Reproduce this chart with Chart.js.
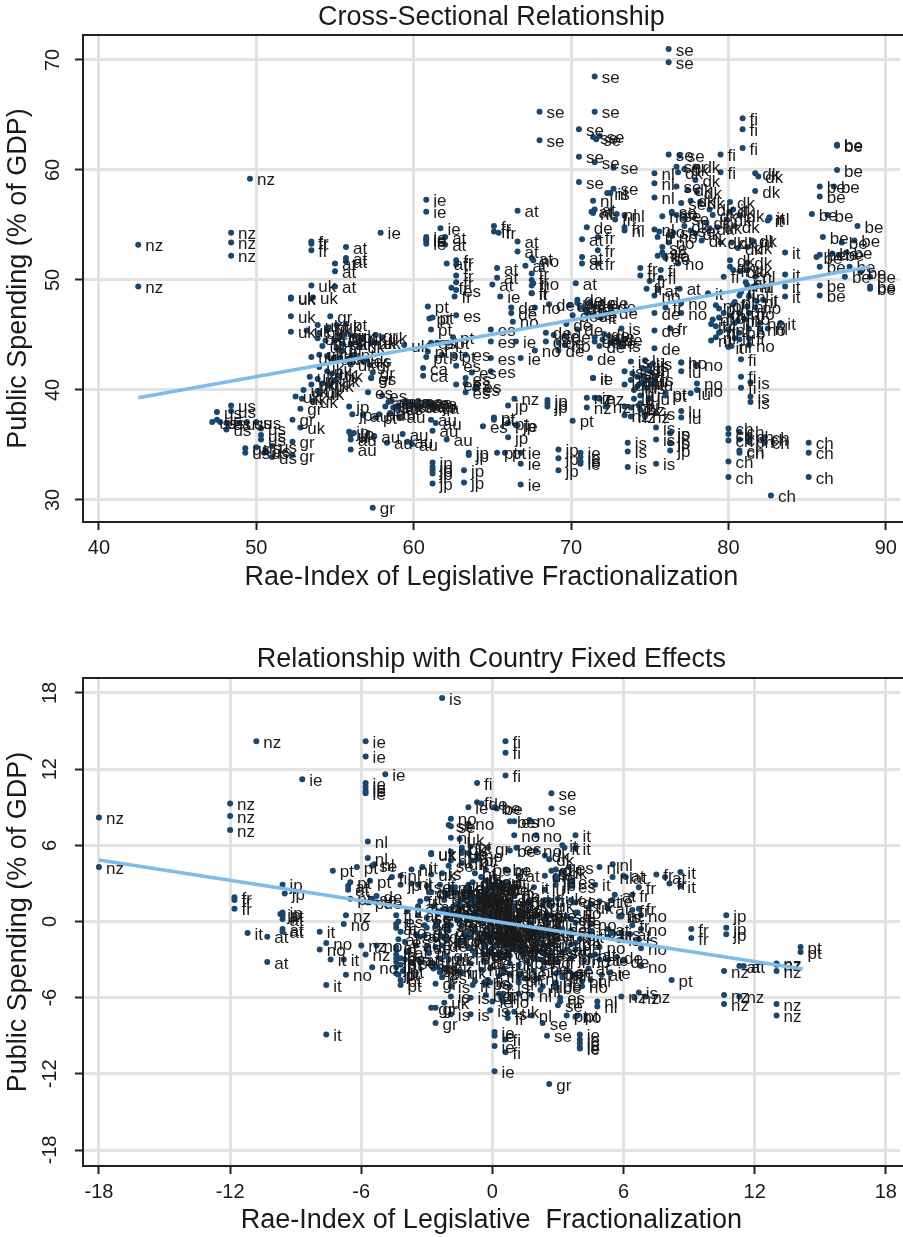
<!DOCTYPE html>
<html>
<head>
<meta charset="utf-8">
<title>Rae-Index and Public Spending</title>
<script src="https://cdn.jsdelivr.net/npm/chart.js@4/dist/chart.umd.min.js"></script>
<style>
  html, body { margin: 0; padding: 0; background: #fff; overflow: hidden; }
  canvas { position: absolute; left: 0; }
  #crossChart { top: 0; }
  #fixedChart { top: 640px; }
</style>
</head>
<body>
<canvas id="crossChart" width="903" height="600"></canvas>
<canvas id="fixedChart" width="903" height="597"></canvas>
<script>
// Cross-sectional panel, [rae index, public spending]
const crossNz = [[42.5,53.2],[42.5,49.4],[48.4,54.3],[48.4,53.4],[48.4,52.2],[49.6,59.2],[66.4,39.2],[71,39.3],[71,38.4],[71.8,39.2],[72.2,38.5],[73.4,38.5],[73.4,37.7],[73.8,38.4],[73.8,37.6],[74.4,38.2],[74.7,37.6]];
const crossIe = [[60.8,57.3],[60.8,56.2],[61.7,54.7],[60.8,53.9],[60.8,53.6],[60.8,53.3],[57.9,54.3],[65.5,48.5],[66.5,44.4],[66.8,42.9],[66.8,34.3],[66.8,33.3],[66.8,31.4],[70.6,34.3],[70.6,33.9],[70.6,33.5],[70.6,33.3],[71.4,41.1],[71.5,39.3],[66.6,36.8],[60.8,53.7]];
const crossAt = [[55.7,53],[55.7,52],[55.7,51.7],[55,51.5],[55,50.8],[55,49.4],[62,53.9],[62,53.2],[62.1,51.5],[66.6,56.3],[66.6,53.5],[66.6,52.6],[65.3,51.1],[65.3,50.2],[67.5,52],[67.1,51.3],[70.7,53.7],[70.7,52.1],[70.7,51.5],[70.3,49.7],[71.3,56.2],[71.5,56.4],[75.5,49.1],[65,49.6],[76.9,49.2]];
const crossFr = [[53.5,53.5],[53.5,53.3],[53.5,52.7],[62.7,51.8],[62.7,51.4],[62.7,50.4],[62.7,49.8],[62.4,49.3],[62.6,48.5],[65.1,54.9],[65.1,54.4],[65.4,54.3],[67.5,50.6],[67.5,50],[67.5,49.5],[67.5,48.8],[71.7,53.9],[71.7,52.7],[71.7,51.5],[74.4,51.1],[74.4,50.4],[76.3,45.6],[72.8,55.5],[73.4,54.8],[75,49.9],[74.8,49.2],[76,47.5]];
const crossDe = [[66.2,47.5],[66.2,47],[68.4,45.2],[68.4,44.4],[69.2,44.3],[69.2,43.6],[70.4,48.2],[70.4,47.9],[70.6,47.5],[71.2,48],[71.5,47.6],[72,48],[72.5,47.6],[70.9,47.3],[75.3,47],[75.3,45.4],[75.3,43.8],[71.5,44.8],[71.5,44.4],[71.8,44],[72,44.6],[72.4,44.9],[72.5,44.3],[71.2,42.9],[71,54.8],[68.6,47.8],[69.7,46],[71,47],[71.3,46.8],[72.6,47.1],[69.9,47.7],[70.1,46.8],[72.1,45.1],[72.9,44.6],[68.9,45],[69.6,44.9],[70.4,45.5]];
const crossNo = [[66.3,46.2],[67.7,47.5],[67.7,43.6],[77,47.9],[77,47],[77,42.5],[78,42.3],[78,40.6],[78,40],[75.3,48.6],[81.3,44.1],[81.3,47],[82,46.1],[82,45.5],[69.6,44.1],[76.8,51.5],[67.6,51.8],[67.6,49.7],[75.6,54.4],[76.4,54],[79.2,47.7],[76.4,56.1],[75.8,55.8],[75.9,52.2],[76.2,53.4],[79.4,46.6],[80.7,45.2],[81,46.5],[81.7,47.5]];
const crossFi = [[80.9,64.7],[80.9,63.7],[80.9,62],[79.5,61.4],[79.5,59.8],[79.7,50.3],[80.8,42.8],[80.8,41.2],[80.8,40.2],[81.3,44.7],[81.3,45.6],[81.3,47],[75.5,53.9],[75.7,50.9],[75.7,50.2],[80.4,44.7],[80.4,46.1],[80.3,47.8],[80.7,48.6],[80.3,50.9],[81.2,49.5]];
const crossSe = [[68,65.3],[68,62.7],[71.5,68.5],[71.5,65.3],[70.5,63.7],[71.4,63],[71.6,62.8],[71.8,63.1],[70.5,61.2],[71.5,60.7],[72.7,60.2],[70.5,58.9],[72.7,58.3],[76.2,71],[76.2,69.8],[76.2,61.4],[76.9,61.3],[76.7,60.3],[76.7,58.5],[77,57],[76,52],[75.8,53],[76.5,54.3],[77.6,54.5],[77.2,55.6],[76.7,55.9],[76.4,56.2],[75.8,52.5]];
const crossDk = [[81.7,59.7],[81.9,59.4],[81.7,58.1],[77.9,60.3],[77.9,59.1],[78.2,57.1],[78.8,56.4],[78.8,54.7],[79.3,54.8],[79.5,53.4],[80.1,57.1],[80.1,56.2],[80.7,55.9],[81.2,53],[81.5,53.6],[80.1,51.8],[81.2,51.6],[80.1,51.2],[77.2,54.9],[77.9,54.2],[77.6,57.2],[78.3,53.6],[76.8,59.8],[77.2,60.1],[77.4,58.2],[78,58],[78.6,55.2],[79,55.9],[79.9,55.5],[80.4,54.9],[80.6,52.9],[80.2,53.4],[80.7,50.8],[81.2,50.9]];
const crossNl = [[75.3,59.7],[75.3,58.8],[75.3,57.5],[71.4,57.2],[72.3,57.9],[71.4,56.1],[73.4,55.9],[73.4,54.5],[72.9,56],[75.3,54.6],[82.6,55.6],[81.6,53.5],[81.6,49.4],[79,46.4],[79.2,45.8],[79.4,45.2],[80,45.5],[78.9,44.5],[80.2,44],[82.5,45.6],[80.4,48],[81.3,48.5],[75.5,52.2],[79.4,47.4],[79.7,47],[80.1,46.8],[80.6,46.3],[81.2,47.6],[81.7,50.3],[81.1,49.8],[81.8,48.1],[79.2,44.8]];
const crossIt = [[83.6,52.5],[83.6,50.5],[83.6,49.4],[83.6,48.5],[82.6,55.7],[80.3,56.4],[83.3,46.1],[78.7,48.8],[71.9,46.6],[71.4,41.1],[67.5,48.8],[80.7,47],[81.8,49.4],[82.2,48.2],[82.5,55.4],[80.8,48.9],[78.9,46],[79.5,45.3],[80,43.9],[80.7,44.6]];
const crossBe = [[86.9,62.3],[86.9,62.2],[86.9,60],[85.8,58.5],[85.8,57.6],[86.7,58.5],[85.3,56],[86.3,55.9],[88.2,54.9],[86,53.9],[88,53.6],[87.2,53.4],[85.8,52.3],[85.6,52.1],[87.5,52.5],[87,52.3],[86.6,52.4],[85.8,51.2],[87.7,51.2],[85.8,49.5],[85.8,48.6],[87.4,50.3],[89,50.3],[89,49.4],[89,49.2],[88.4,50.7]];
const crossIs = [[73.2,45.6],[73.2,44.1],[73.6,35.2],[73.6,34.4],[73.6,33],[75.4,37.9],[75.4,36.6],[75.4,35.5],[75.4,33.3],[73.8,42.6],[75.2,42.4],[75.3,41],[76.3,36.1],[76.3,35.2],[81.4,39.4],[81.4,38.9],[81.4,40.7],[72.5,57.9],[73.4,41.7],[74.2,41.2],[73.9,41.5],[74.5,42],[75,42.2],[74.8,40.2]];
const crossEs = [[62.7,49.1],[62.7,46.8],[57,42.7],[61.1,44.3],[63.3,43.2],[62.7,42.2],[63.3,41.1],[63.3,40.6],[63.3,39.8],[62.7,40.5],[57.3,41.1],[57.1,39.8],[58,39.5],[58.6,39],[59,38.3],[64.9,45.5],[64.9,44.4],[64.9,42.9],[64.9,41.7],[64.4,36.7],[63.7,41.6],[64,40.3],[63.9,40.1]];
const crossPt = [[60.9,47.6],[61,46.5],[61.2,46.6],[61.1,45.5],[60.8,43],[60.9,43.5],[61.5,44.3],[62.2,44.3],[62.5,44.8],[61.8,43.2],[62.6,43.1],[55.4,44.8],[55.4,43.5],[54.6,45.7],[55.7,46],[56.3,44.9],[57.6,37.5],[58.2,38.5],[65.1,37.5],[65.1,37.3],[66,37],[70.1,37.2],[76,39.7],[76,39.5],[65.8,34.3],[65.3,34.3],[56.2,43.2]];
const crossGr = [[52.3,37.3],[52.3,35.3],[52.3,34.1],[57.4,29.3],[54.7,46.7],[55.6,45],[57.6,45],[54.4,44.5],[55.1,43.8],[57.2,42.3],[57.4,41.6],[57.3,41.1],[52.8,38.3]];
const crossUk = [[53.5,49.5],[52.2,48.4],[52.2,48.3],[53.6,48.4],[52.2,46.7],[52.2,45.3],[53.9,45.9],[53.2,45.4],[54,45.2],[55.1,45.9],[56,45],[56.7,44.7],[57.6,44.3],[58,44.8],[54,43.2],[54.5,43.1],[54.9,42.9],[55.3,42.9],[54,42.1],[54.5,41.7],[53.4,41.2],[53.9,41],[54.2,40.6],[54.6,40.4],[55,40.9],[53,40],[52.9,39.2],[52.5,39.4],[53.6,39],[54,39.7],[56,42.3],[56.8,42.6],[59.4,44.1],[52.8,36.6],[56,35.9],[54.5,45.5],[55,44.5],[55.5,44.2],[56,44.2],[56.6,44],[57.3,44.3],[54.2,44],[53.9,44.7],[53.5,43],[54.8,41.5],[55.2,41.3],[53.5,40.5],[53.9,39.9]];
const crossUs = [[48.4,38.6],[48.4,38.1],[47.5,38],[47.5,37.3],[47.2,37.1],[47.7,37.1],[48.1,37],[48.1,36.4],[48.9,37],[49.4,37.1],[50,37.1],[50.3,36.5],[50.3,35.9],[50.3,35.5],[49.3,34.7],[49.3,34.3],[50,34.8],[50.5,34.3],[51,34.9],[51,33.9],[50.6,34.5]];
const crossAu = [[56.8,37.7],[56,35.5],[56,34.6],[57.5,35.8],[58.3,35.2],[59.3,36],[59.6,35.3],[59.9,35.1],[61.2,36.3],[62.1,35.5],[61.1,37.3],[61.4,37],[58.5,37.9],[58.7,38.4],[58.4,38.9],[59.1,37.6],[57.8,37.8]];
const crossJp = [[55.9,38.5],[56.1,37.8],[55.9,36.2],[56.2,36.1],[61.2,33.4],[61.2,33],[61.2,32.7],[61.2,32.4],[61.2,31.5],[63.2,32.7],[63.2,31.6],[63.5,34.3],[63.5,34.1],[61.4,38.5],[66,38.6],[68.5,39.1],[68.5,38.8],[68.5,38.5],[66,35.7],[69.2,34.6],[69.2,33.8],[69.2,32.7],[76.3,36.1],[76.3,35.2],[76.3,34.5],[66.5,36.8]];
const crossCa = [[60.6,42],[60.6,41.3],[59.7,38.9],[60,38.7],[60.3,39],[60.7,38.9],[61,38.6],[61.2,38.8],[60.5,38.6],[59,38.6],[59.5,39],[59.8,38.5],[60.2,38.5],[60.9,38.9],[61.3,38.4]];
const crossCh = [[80,36.5],[80,36],[80,35.4],[80,33.5],[80,32.1],[80.7,36.2],[80.7,35.5],[80.7,34.5],[80.7,34.3],[81.3,35.8],[81.3,35.3],[82.3,35.7],[82.3,35.2],[82.2,35.5],[85.1,35.2],[85.1,34.3],[85.1,32.1],[82.7,30.4]];
const crossLu = [[77,42.5],[77,41.7],[77,38.1],[77,37.5],[74.7,42.7],[74.7,41.9],[74.4,40.6],[74.4,39.5],[74.4,38.8],[73.4,40.5],[74,40],[77.6,39.7],[74.6,41.3],[74.9,40.9],[75,39.2],[73.8,40.9],[74.2,40.3],[74.6,40.7],[75,41.7],[75.2,40.5],[74,39.2],[74.3,38.6]];
const crossCodes = ["nz","ie","at","fr","de","no","fi","se","dk","nl","it","be","is","es","pt","gr","uk","us","au","jp","ca","ch","lu"];
const crossValues = [crossNz,crossIe,crossAt,crossFr,crossDe,crossNo,crossFi,crossSe,crossDk,crossNl,crossIt,crossBe,crossIs,crossEs,crossPt,crossGr,crossUk,crossUs,crossAu,crossJp,crossCa,crossCh,crossLu];
const crossFitX = [42.5, 89];
const crossFitY = [39.3, 51.2];

// Country fixed effects panel, [rae index, public spending]
const fixedNz = [[-18,8.2],[-18,4.3],[-12,9.3],[-12,8.3],[-12,7.2],[-10.8,14.2],[-6.7,0.5],[-6,-1.9],[-5.8,-2.6],[5.9,-5.9],[6.5,-6],[7,-5.9],[10.6,-3.9],[10.6,-5.8],[10.6,-6.5],[13,-3.3],[13,-3.4],[13,-3.9],[13,-6.5],[13,-7.4],[11.3,-5.9]];
const fixedIe = [[-5.8,14.2],[-5.8,13],[-5.8,10.9],[-5.8,10.6],[-5.8,10.3],[-5.8,10.1],[-4.9,11.6],[-8.7,11.2],[-1.1,9],[0.1,-8.7],[0.1,-9],[0.1,-9.8],[0.1,-11.8],[4,-8.9],[4,-9.3],[4,-9.6],[4,-9.9],[4,-10],[-0.1,1.3],[5.5,1.7],[5.4,-4],[5.3,-3],[0,-6.3],[-1.1,5.4]];
const fixedAt = [[7.9,3.5],[6,3.6],[6.1,3.5],[-10.3,-1.2],[-9.6,0.5],[-9.6,0.2],[-9.6,-0.6],[-9.6,-0.8],[-10.3,-3.2],[11.3,-3.5],[-6.6,2.8],[-6.6,2.5],[-3.4,1.2],[-3.4,0.5],[-3.3,-1.2],[1.2,3.6],[1.2,0.8],[-0.1,-1.6],[-0.1,-2.5],[2.1,-0.7],[1.7,-1.4],[5.3,1],[5.3,-0.6],[5.3,-1.2],[4.9,-3],[5.9,0.5],[6.3,-1],[-0.4,-3.1],[11.5,-3.5],[-4.4,-0.5],[-4.3,-1.4],[-3.9,-2.4],[-4.4,-2],[-3.4,-3],[-3,-0.5],[-2.3,0.9],[3.4,-2.2],[4,-1.4],[4.7,-2.6],[5,-4.2],[5.6,2.1],[4.4,-3.7],[4.9,1.6]];
const fixedFr = [[-11.8,1.9],[-11.8,1.7],[-11.8,1],[9.1,-0.6],[9.1,-1.3],[6.7,2.7],[6.7,1],[-2.6,0],[-2.6,-0.4],[-2.6,-1.4],[-2.6,-2],[-2.9,-2.5],[-2.7,-3.3],[-0.2,3.1],[-0.2,2.6],[0.1,2.5],[2.2,-1.2],[2.2,-1.8],[2.2,-2.3],[2.2,-3],[6.4,2.1],[6.4,0.9],[6.4,-0.3],[7.5,3.7],[8.1,3],[-3.3,1.6],[-1.5,-4],[-0.9,-5],[0.5,-3.8],[1.5,-4.5],[3,-3.2],[3.8,-4.2],[5.8,0.4],[5.5,-0.9]];
const fixedDe = [[-5.3,2],[-5.3,1.5],[-3.1,-0.3],[-3.1,-1.1],[-2.3,-1.2],[-2.3,-1.9],[-1.1,2.7],[-1.1,2.4],[-0.9,2],[-0.3,2.5],[0,2.1],[0.5,2.5],[1,2.1],[-0.6,1.8],[3.8,1.5],[3.8,-0.1],[3.8,-1.7],[0,-0.7],[0,-1.1],[0.3,-1.5],[0.5,-0.9],[0.9,-0.6],[1,-1.2],[-0.3,-2.6],[-0.5,9.3],[-2.9,2.3],[-1.8,0.5],[5.7,-2.8],[6,-3.1],[-1.4,1.2],[-0.7,0.9],[0.3,0.6],[1.3,0.7],[-1.9,-0.3],[-1.3,-1.5],[-0.9,-2.3],[0.7,-2.5],[1.4,-1.9],[-2.5,0.6]];
const fixedNo = [[-0.5,1.6],[-0.5,0.7],[-0.5,-3.8],[0.5,-4],[0.5,-5.7],[0.5,-6.3],[-2.2,2.3],[3.8,-2.2],[3.8,0.7],[4.5,-0.2],[4.5,-0.8],[-7.9,-2.2],[-0.7,5.2],[-1.9,8.1],[-1.1,7.7],[1.7,8],[2,6.8],[2,5.6],[1,6.8],[6.8,-2.1],[6.8,-3.5],[6.8,0.5],[6.8,-0.6],[4.1,-5.1],[3.8,-7.5],[-6.8,-0.2],[-6.7,-4.2],[-5.5,-3.6],[-7.6,-1.7],[-5.3,-1.9],[-4.2,-0.8],[-4,-3],[1,0.1],[1.7,1.5],[2.7,-1.8],[2.4,-3.2],[3,-4],[4.2,-3.1],[4.9,-2]];
const fixedFi = [[0.6,14.2],[0.6,13.3],[0.6,11.5],[-0.7,10.9],[-0.7,9.4],[-0.4,-0.1],[0.7,-7.6],[0.6,-9.3],[0.6,-10.3],[1.2,-5.7],[1.2,-4.8],[1.2,-3.4],[-4.6,3.5],[-4.4,0.5],[-4.4,-0.2],[0.3,-5.7],[0.3,-4.3],[0.2,-2.6],[0.6,-1.8],[0.2,0.5],[1.1,-0.9],[0.4,-6],[-0.2,-4.6]];
const fixedSe = [[-5.5,4.4],[-5.5,1.8],[-2,7.6],[-2,4.4],[-3,2.8],[-2.1,2.1],[-2.1,2.2],[-3,0.3],[-2,-0.2],[-0.8,-0.7],[-3,-2],[-0.8,-2.6],[2.7,10.1],[2.7,8.9],[2.7,0.5],[3.4,0.4],[3.2,-0.6],[3.2,-2.4],[3.5,-3.9],[2.5,-9],[2.3,-8],[3,-6.6],[-1.9,7.5]];
const fixedDk = [[2.4,5.2],[2.6,4.9],[2.4,3.6],[-1.4,5.8],[-1.4,4.6],[-1.1,2.6],[-0.5,1.9],[-0.5,0.2],[0,0.3],[0.2,-1.1],[0.8,2.6],[0.8,1.7],[1.4,1.4],[1.9,-1.5],[2.2,-0.9],[0.8,-2.7],[1.9,-2.9],[0.8,-3.3],[-2.1,0.4],[-1.4,-0.3],[-1.7,2.7],[-1,-0.9],[2.9,4.1],[3.2,3.9],[-0.9,3.1],[1,1.1],[0.6,0.7],[-0.2,1.2],[-0.8,1.5],[0.4,-0.4],[1.3,0.3],[1.7,-0.5],[0.2,-1.9],[1.2,-2.2],[-0.4,-0.9]];
const fixedNl = [[-5.7,6.3],[-5.7,5],[-5.4,4.5],[-1.9,6.6],[-1.9,5.5],[-1.9,4.8],[-3.7,4.1],[-3.7,3],[-4.2,3.6],[-1.9,2.7],[5.5,3.5],[4.5,1.4],[4.5,-2.7],[1.9,-3.9],[2.1,-4.5],[2.3,-5.1],[2.9,-4.8],[1.8,-5.8],[3.1,-6.3],[4.8,-6.3],[4.8,-6.7],[4.5,-4.6],[2.2,-5.4],[1.8,-7.4],[5.5,4.5],[4.9,4.3]];
const fixedIt = [[3.8,6.8],[3.8,5.8],[4.7,2.9],[-3.2,4.3],[-11.2,-0.9],[-7.6,-8.9],[-7.6,-5],[-6.8,-3],[8.6,3.9],[8.6,2.8],[3.9,0.7],[3.2,6],[4.4,-1.2],[1.4,-2.7],[-7.4,-3],[-7.9,-0.8],[2.5,-0.2],[3,-1.4],[3.3,5.8],[1.5,-0.7],[-0.8,-4.7],[-3,1.8],[-3.9,0.8],[-3.4,2.9],[-2.4,2.9],[-1.9,1],[-0.5,3.5],[0.7,3.1],[1.9,2.7],[2.6,1.7]];
const fixedBe = [[0.1,9],[0.2,8.9],[0.8,7.9],[0.8,5.6],[-0.3,4.1],[-0.3,3.2],[0.6,4.1],[-0.8,1.6],[0.2,1.5],[2.1,0.5],[-0.1,-0.5],[1.9,-0.8],[1.1,-1],[0.9,-1.2],[1.4,-2],[0.9,-2],[0.5,-1.9],[-0.3,-3.2],[1.6,-3.2],[-0.3,-4.9],[-0.3,-5.8],[1.3,-4.1],[2.9,-4.1],[2.9,-5],[2.9,-5.2],[2.3,-3.7]];
const fixedIs = [[-2.3,17.6],[-2.3,3.8],[-1.9,-5.1],[-1.9,-5.9],[-1.9,-7.3],[-0.1,-2.4],[-0.1,-3.7],[-0.1,-4.8],[-0.1,-7],[-1.7,2.3],[-0.3,2.1],[-0.2,0.7],[0.8,-4.2],[0.8,-5.1],[5.9,-0.9],[5.9,-1.4],[5.9,0.4],[6.7,-5.6],[6.7,-1.4],[-1,-7.3],[0.7,-7.2],[-1,-6],[1.2,-4.3]];
const fixedEs = [[1,7.9],[1.1,5.8],[3.5,4.3],[3.6,3.2],[-4.3,0],[-0.2,1.6],[2,0.5],[1.4,-0.5],[2,-1.6],[2,-2.1],[2,-2.9],[1.4,-2.2],[-4,-1.6],[-4.2,-2.9],[-3.3,-3.2],[-2.7,-3.7],[-2.3,-4.4],[3.6,2.8],[3.6,1.7],[3.6,0.2],[3.6,-1],[3.1,-6],[2.4,-1.1],[2.7,-2.4],[2.6,-2.6]];
const fixedPt = [[-1,5.9],[-0.9,4.8],[-0.7,4.9],[-0.8,3.8],[-1.1,1.3],[-1,1.8],[-0.4,2.6],[0.3,2.6],[0.6,3.1],[-0.1,1.5],[0.7,1.4],[-6.5,3.1],[-6.5,1.8],[-7.3,4],[-6.2,4.3],[-5.6,3.2],[-4.3,-4.2],[-3.7,-3.2],[3.2,-4.2],[3.2,-4.4],[4.1,-4.7],[8.2,-4.6],[14.1,-2],[14.1,-2.4],[3.9,-7.4],[3.4,-7.4],[-5.7,1.5],[-4.2,-3.4],[-4.2,-4.6],[-4.2,-5],[-4.1,-3.9]];
const fixedGr = [[-2.6,-6.8],[-2.6,-4.9],[-2.6,-3.6],[-2.6,-8],[2.6,-12.8],[-0.2,5.8],[0.7,4],[2.7,4],[-0.5,3.5],[0.2,2.8],[2.3,1.3],[2.5,0.6],[2.4,0.1],[-2.1,-2.7],[-2.8,-6.8]];
const fixedUk = [[-1.5,6.5],[-2.8,5.4],[-2.8,5.3],[-1.4,5.4],[-2.8,3.7],[-2.8,2.3],[-1.1,2.9],[-1.8,2.4],[-1,2.2],[0.1,2.9],[1,2],[1.7,1.7],[2.6,1.3],[3,1.8],[-1,0.2],[-0.5,0.1],[-0.1,-0.1],[0.3,-0.1],[-1,-0.9],[-0.5,-1.3],[-1.6,-1.8],[-1.1,-2],[-0.8,-2.4],[-0.4,-2.6],[0,-2.1],[-2,-3],[-2.1,-3.8],[-2.5,-3.6],[-1.4,-4],[-1,-3.3],[1,-0.7],[1.8,-0.4],[4.4,1.1],[-2.2,-6.4],[1,-7.1]];
const fixedUs = [[-1.3,2.3],[-1.3,1.8],[-2.2,1.7],[-2.2,1],[-2.5,0.8],[-2,0.8],[-1.6,0.7],[-1.6,0.1],[-0.8,0.7],[-0.3,0.8],[0.3,0.8],[0.6,0.2],[0.6,-0.4],[0.6,-0.8],[-0.4,-1.6],[-0.4,-2],[0.3,-1.5],[0.8,-2],[1.3,-1.4],[1.3,-2.4],[0.9,-1.8]];
const fixedAu = [[-2.7,1.2],[-3.5,-1],[-3.5,-1.9],[-2,-0.7],[-1.2,-1.3],[-0.2,-0.5],[0.1,-1.2],[0.4,-1.4],[1.7,-0.2],[2.6,-1],[1.6,0.8],[1.9,0.5],[-1,1.4],[-0.8,1.9],[-1.1,2.4],[-0.4,1.1],[-1.7,1.3]];
const fixedJp = [[-9.6,2.9],[-9.6,0.7],[-9.5,2.2],[-9.7,0.6],[-4.4,-2.2],[-4.4,-2.6],[-4.4,-2.9],[-4.4,-3.2],[-4.4,-4.1],[-2.4,-2.9],[-2.4,-4],[-2.1,-1.3],[-2.1,-1.5],[-4.2,2.9],[0.4,3],[2.9,3.5],[2.9,3.2],[2.9,2.9],[0.4,0.1],[3.6,-1],[3.6,-1.8],[3.6,-2.9],[10.7,0.5],[10.7,-0.5],[10.7,-1],[0.9,1.2],[-4.4,-3.6]];
const fixedCa = [[-0.4,2.1],[-0.4,1.4],[-1.3,-1],[-1,-1.2],[-0.7,-0.9],[-0.3,-1],[0,-1.3],[0.2,-1.1],[-0.5,-1.3]];
const fixedCh = [[-1.5,1.5],[-1.5,1],[-1.5,0.4],[-1.5,-1.5],[-1.5,-2.9],[-0.8,1.2],[-0.8,0.5],[-0.8,-0.5],[-0.8,-0.7],[-0.2,0.8],[-0.2,0.3],[0.8,0.7],[0.8,0.2],[0.7,0.5],[3.6,0.2],[3.6,-0.7],[3.6,-2.9],[1.2,-4.6]];
const fixedLu = [[2.4,2.5],[2.4,1.7],[2.4,-1.9],[2.4,-2.5],[0.1,2.7],[0.1,1.9],[-0.2,0.6],[-0.2,-0.5],[-0.2,-1.2],[-1.2,0.5],[-0.6,0],[3,-0.3],[0,1.3],[0.3,0.9],[0.4,-0.8]];
const fixedCodes = ["nz","ie","at","fr","de","no","fi","se","dk","nl","it","be","is","es","pt","gr","uk","us","au","jp","ca","ch","lu"];
const fixedValues = [fixedNz,fixedIe,fixedAt,fixedFr,fixedDe,fixedNo,fixedFi,fixedSe,fixedDk,fixedNl,fixedIt,fixedBe,fixedIs,fixedEs,fixedPt,fixedGr,fixedUk,fixedUs,fixedAu,fixedJp,fixedCa,fixedCh,fixedLu];
const fixedFitX = [-18, 14.2];
const fixedFitY = [4.85, -3.75];

const FONT = "'Liberation Sans', Arial, sans-serif";
const INK = "#1a1a1a";
const NAVY = "#1a476f";
const FIT_BLUE = "#7fbce8";
const GRID = "#e2e2e2";

// scatter labels, drawn just after the points so the fit line stays on top
const codeLabels = {
  id: "codeLabels",
  afterDatasetDraw(chart, args) {
    if (args.index !== 0) return;
    const { ctx } = chart;
    const rows = chart.data.datasets[0].data;
    ctx.save();
    ctx.font = "17px " + FONT;
    ctx.fillStyle = INK;
    ctx.textBaseline = "middle";
    args.meta.data.forEach((pt, i) => ctx.fillText(rows[i].code, pt.x + 7, pt.y + 2));
    ctx.restore();
  }
};

// Stata style box round the plot, the right side runs off the page
const plotFrame = {
  id: "plotFrame",
  afterDraw(chart) {
    const { ctx, chartArea: a } = chart;
    ctx.save();
    ctx.strokeStyle = "#222";
    ctx.lineWidth = 2;
    ctx.strokeRect(a.left, a.top, a.right - a.left + 10, a.bottom - a.top);
    ctx.restore();
  }
};

function axis(min, max, step, title, extra) {
  return Object.assign({
    type: "linear",
    min: min,
    max: max,
    ticks: {
      stepSize: step,
      includeBounds: false,
      color: INK,
      font: { family: FONT, size: 20 }
    },
    grid: {
      color: GRID,
      lineWidth: 3,
      tickColor: "#222",
      tickWidth: 2,
      tickLength: 8
    },
    border: { display: false },
    title: {
      display: true,
      text: title,
      color: INK,
      font: { family: FONT, size: 27 }
    }
  }, extra);
}

function panel(id, codes, values, fitX, fitY, opts) {
  const points = [];
  values.forEach((rows, i) => rows.forEach(r => points.push({ x: r[0], y: r[1], code: codes[i] })));
  const fit = fitX.map((x, i) => ({ x: x, y: fitY[i] }));

  const yAxis = axis(opts.yMin, opts.yMax, opts.yStep, "Public Spending (% of GDP)", { afterFit: s => { s.width = 83; } });
  yAxis.ticks.minRotation = 90;
  yAxis.ticks.maxRotation = 90;
  yAxis.ticks.crossAlign = "center";
  yAxis.ticks.padding = 10;
  yAxis.title.padding = { top: 2, bottom: 0 };

  const xAxis = axis(opts.xMin, opts.xMax, opts.xStep, opts.xTitle, { afterFit: s => { s.height = opts.xHeight; } });
  xAxis.ticks.maxRotation = 0;
  xAxis.ticks.padding = 6;
  xAxis.title.padding = { top: 0, bottom: opts.xTitleBottom };

  return new Chart(document.getElementById(id), {
    type: "scatter",
    data: {
      datasets: [
        { data: points, order: 2, pointRadius: 3, pointBorderWidth: 0, pointBackgroundColor: NAVY },
        { data: fit, order: 1, showLine: true, pointRadius: 0, borderColor: FIT_BLUE, borderWidth: 3.5 }
      ]
    },
    options: {
      responsive: false,
      animation: false,
      layout: { autoPadding: false },
      plugins: {
        legend: { display: false },
        tooltip: { enabled: false },
        title: {
          display: true,
          fullSize: false,
          text: opts.title,
          color: INK,
          font: { family: FONT, size: 27, weight: "normal" },
          padding: opts.titlePadding
        }
      },
      scales: { x: xAxis, y: yAxis }
    },
    plugins: [codeLabels, plotFrame]
  });
}

panel("crossChart", crossCodes, crossValues, crossFitX, crossFitY, {
  title: "Cross-Sectional Relationship",
  titlePadding: { top: 1, bottom: 1.6 },
  xTitle: "Rae-Index of Legislative Fractionalization",
  xTitleBottom: 6,
  xMin: 38.99, xMax: 90.89, xStep: 10,
  yMin: 28, yMax: 72.27, yStep: 10,
  xHeight: 78
});

panel("fixedChart", fixedCodes, fixedValues, fixedFitX, fixedFitY, {
  title: "Relationship with Country Fixed Effects",
  titlePadding: { top: 3.8, bottom: 1.8 },
  xTitle: "Rae-Index of Legislative  Fractionalization",
  xTitleBottom: 0,
  xMin: -18.73, xMax: 18.64, xStep: 6,
  yMin: -19.26, yMax: 19.18, yStep: 6,
  xHeight: 71
});
</script>
</body>
</html>
